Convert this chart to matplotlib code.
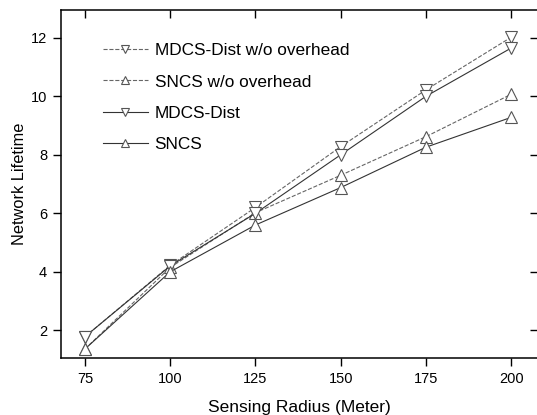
import matplotlib
matplotlib.use("Agg")
import matplotlib.pyplot as plt

radius = [75, 100, 125, 150, 175, 200]
mdcs_no_oh = [1.78, 4.22, 6.2, 8.28, 10.22, 12.02]
sncs_no_oh = [1.36, 4.15, 6.02, 7.3, 8.62, 10.07]
mdcs = [1.78, 4.2, 6.0, 8.0, 10.0, 11.65]
sncs = [1.36, 4.0, 5.6, 6.88, 8.26, 9.28]

plt.rcParams['font.family'] = ['Liberation Sans', 'DejaVu Sans']

fig = plt.figure(figsize=(5.37, 4.15), dpi=100)
ax = fig.add_axes([0.1136, 0.137, 0.888, 0.839])

mk = dict(markersize=8, markerfacecolor='white', markeredgecolor='#555555', markeredgewidth=0.8)
ax.plot(radius, mdcs_no_oh, '--', color='#666666', lw=0.8, marker='v', label='MDCS-Dist w/o overhead', **mk)
ax.plot(radius, sncs_no_oh, '--', color='#666666', lw=0.8, marker='^', label='SNCS w/o overhead', **mk)
ax.plot(radius, mdcs, '-', color='#333333', lw=0.8, marker='v', label='MDCS-Dist', **mk)
ax.plot(radius, sncs, '-', color='#333333', lw=0.8, marker='^', label='SNCS', **mk)

ax.set_xlim(68, 207.8)
ax.set_ylim(1.05, 12.95)
ax.set_xticks(radius)
ax.set_yticks([2, 4, 6, 8, 10, 12])
# origin style: outward on bottom/left, inward mirrored ticks on top/right
ax.tick_params(direction='out', length=6, width=1, labelsize=10.5, pad=4)
ax.tick_params(which='both', top=True, right=True)
for t in ax.xaxis.get_major_ticks():
    t.tick2line.set_marker(3)  # top tick pointing down into the plot
for t in ax.yaxis.get_major_ticks():
    t.tick2line.set_marker(0)  # right tick pointing left into the plot
for s in ax.spines.values():
    s.set_linewidth(1.1)

ax.set_xlabel('Sensing Radius (Meter)', fontsize=12.5, labelpad=10)
ax.set_ylabel('Network Lifetime', fontsize=11.8, labelpad=3)

ax.legend(loc='upper left', frameon=False, fontsize=12.4, handlelength=2.6,
          handletextpad=0.4, labelspacing=0.95, markerscale=0.65,
          bbox_to_anchor=(0.088, 0.905), borderaxespad=0, borderpad=0)

fig.savefig('out.png', dpi=100)
